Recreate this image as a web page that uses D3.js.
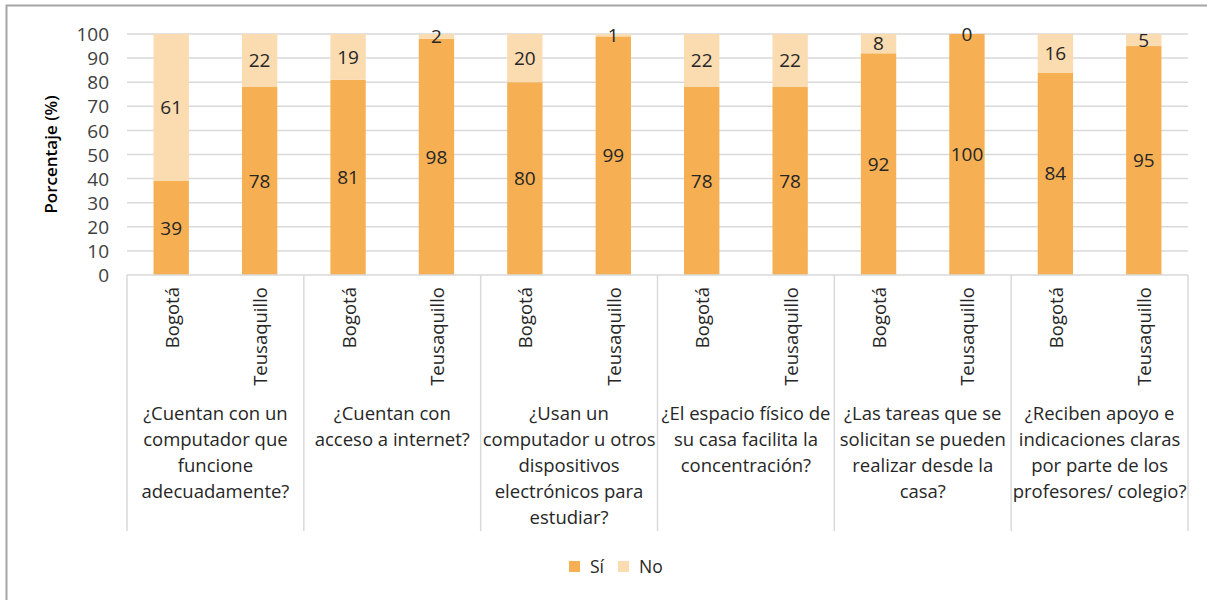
<!DOCTYPE html>
<html><head><meta charset="utf-8">
<script src="https://cdn.jsdelivr.net/npm/d3@7"></script>
<style>body{margin:0;background:#fff}svg{display:block}</style>
</head><body>
<svg id="c" width="1207" height="600"></svg>
<script>
const questions = [
  ["¿Cuentan con un","computador que","funcione","adecuadamente?"],
  ["¿Cuentan con","acceso a internet?"],
  ["¿Usan un","computador u otros","dispositivos","electrónicos para","estudiar?"],
  ["¿El espacio físico de","su casa facilita la","concentración?"],
  ["¿Las tareas que se","solicitan se pueden","realizar desde la","casa?"],
  ["¿Reciben apoyo e","indicaciones claras","por parte de los","profesores/ colegio?"]
];
const places = ["Bogotá","Teusaquillo"];
const siValues = [39,78,81,98,80,99,78,78,92,100,84,95];
const noValues = [61,22,19,2,20,1,22,22,8,0,16,5];
const yTicks = [0,10,20,30,40,50,60,70,80,90,100];
const seriesNames = ["Sí","No"];
const colors = ["#F6B053","#FBDBB0"];

const svg = d3.select("#c");
const font = "'Open Sans', sans-serif";
const L = 127, R = 1188, T = 34, B = 275;
const y = d3.scaleLinear().domain([0,100]).range([B,T]);
const gx = d3.scaleBand().domain(d3.range(questions.length)).range([L,R]).padding(0);
const sx = d3.scaleBand().domain(places).range([0,gx.bandwidth()]).paddingInner(0.6).paddingOuter(0.3);

// border
svg.append("path").attr("d","M6.5,600 V5.5 H1207").attr("fill","none").attr("stroke","#a6a6a6").attr("stroke-width",2);

// grid
svg.append("g").selectAll("line").data(yTicks.filter(d=>d>0)).join("line")
  .attr("x1",L).attr("x2",R).attr("y1",d=>y(d)).attr("y2",d=>y(d))
  .attr("stroke","#d9d9d9").attr("stroke-width",1.5);

// y axis labels
const yAxis = svg.append("g").attr("transform",`translate(${L-18},0)`)
  .call(d3.axisLeft(y).tickValues(yTicks).tickSize(0).tickPadding(0));
yAxis.select(".domain").remove();
yAxis.selectAll("text").attr("font-family",font).attr("font-size",19).attr("fill","#404040").attr("dy","0.35em");

svg.append("text").attr("transform",`translate(57,${(T+B)/2}) rotate(-90)`)
  .attr("text-anchor","middle").attr("font-family",font).attr("font-size",17).attr("font-weight",600)
  .attr("fill","#000").text("Porcentaje (%)");

// data
const rows = [];
questions.forEach((q,qi)=>places.forEach((p,pi)=>{
  const k = qi*2+pi;
  rows.push({qi,p,si:siValues[k],no:noValues[k]});
}));
const stacked = d3.stack().keys(["si","no"])(rows);

const bars = svg.append("g");
stacked.forEach((s,si)=>{
  bars.append("g").selectAll("rect").data(s).join("rect")
    .attr("x",d=>gx(d.data.qi)+sx(d.data.p))
    .attr("width",sx.bandwidth())
    .attr("y",d=>y(d[1]))
    .attr("height",d=>y(d[0])-y(d[1]))
    .attr("fill",colors[si]);
  bars.append("g").selectAll("text").data(s).join("text")
    .attr("x",d=>gx(d.data.qi)+sx(d.data.p)+sx.bandwidth()/2)
    .attr("y",d=>y((d[0]+d[1])/2))
    .attr("dy","0.35em").attr("text-anchor","middle")
    .attr("font-family",font).attr("font-size",19).attr("fill","#262626")
    .text(d=>d[1]-d[0]);
});

// category axis lines
const ax = svg.append("g");
ax.append("line").attr("x1",L).attr("x2",R).attr("y1",B).attr("y2",B).attr("stroke","#d9d9d9").attr("stroke-width",1.5);
ax.selectAll("line.sep").data(d3.range(questions.length+1)).join("line").attr("class","sep")
  .attr("x1",d=>d<questions.length?gx(d):R).attr("x2",d=>d<questions.length?gx(d):R)
  .attr("y1",B).attr("y2",531).attr("stroke","#d9d9d9").attr("stroke-width",1.5);

// place labels
rows.forEach(r=>{
  const cx = gx(r.qi)+sx(r.p)+sx.bandwidth()/2;
  svg.append("text").attr("transform",`translate(${cx+1},287) rotate(-90)`)
    .attr("text-anchor","end").attr("dy","0.35em")
    .attr("font-family",font).attr("font-size",18.5).attr("fill","#262626").text(r.p);
});

// question labels
questions.forEach((q,qi)=>{
  const cx = gx(qi)+gx.bandwidth()/2;
  const t = svg.append("text").attr("text-anchor","middle").attr("font-family",font)
    .attr("font-size",18.5).attr("fill","#262626");
  q.forEach((line,li)=>t.append("tspan").attr("x",cx).attr("y",420+li*26).text(line));
});

// legend
const lg = svg.append("g");
const lx = [569,618];
seriesNames.forEach((n,i)=>{
  lg.append("rect").attr("x",lx[i]).attr("y",561).attr("width",11).attr("height",11).attr("fill",colors[i]);
  lg.append("text").attr("x",lx[i]+21).attr("y",567).attr("dy","0.35em")
    .attr("font-family",font).attr("font-size",17.5).attr("fill","#262626").text(n);
});
</script>
</body></html>
